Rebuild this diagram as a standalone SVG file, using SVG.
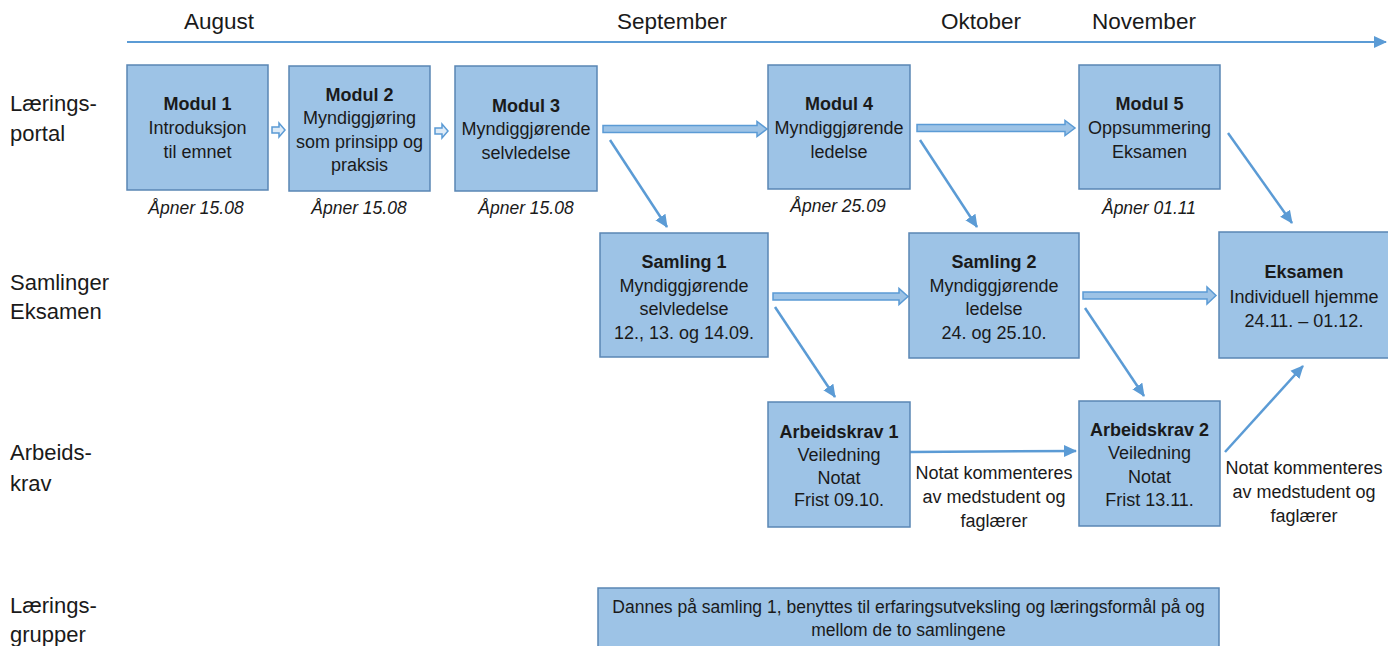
<svg xmlns="http://www.w3.org/2000/svg" width="1388" height="646" viewBox="0 0 1388 646">
<style>
text{font-family:"Liberation Sans",Arial,sans-serif;fill:#1a1a1a}
.box{fill:#9DC3E6;stroke:#5A86B4;stroke-width:1.5}
.t{font-size:18px;text-anchor:middle}
.b{font-weight:bold}
.d{font-size:17.5px;font-style:italic;text-anchor:middle}
.row{font-size:22px}
.mon{font-size:22.5px;text-anchor:middle}
.ln{fill:none;stroke:#5B9BD5;stroke-width:2.5}
.blk{fill:#9DC3E6;stroke:#5B9BD5;stroke-width:1.5}
.sm{fill:#DEEBF7;stroke:#5B9BD5;stroke-width:1.5}
.g{font-size:17.5px;text-anchor:middle}
</style>
<defs>
<marker id="ah" markerUnits="userSpaceOnUse" markerWidth="14" markerHeight="14" viewBox="0 0 14 14" refX="12" refY="7" orient="auto">
<path d="M0,1 L13,7 L0,13 Z" fill="#5B9BD5"/>
</marker>
</defs>
<rect width="1388" height="646" fill="#fff"/>
<g id="timeline">
<line x1="127" y1="42" x2="1386" y2="42" class="ln" style="stroke-width:2" marker-end="url(#ah)"/>
<text class="mon" x="219" y="29">August</text>
<text class="mon" x="672" y="29">September</text>
<text class="mon" x="981" y="29">Oktober</text>
<text class="mon" x="1144" y="29">November</text>
</g>
<g id="rowlabels">
<text class="row" x="10" y="111">Lærings-</text>
<text class="row" x="10" y="141">portal</text>
<text class="row" x="10" y="290">Samlinger</text>
<text class="row" x="10" y="319">Eksamen</text>
<text class="row" x="10" y="460">Arbeids-</text>
<text class="row" x="10" y="491">krav</text>
<text class="row" x="10" y="613">Lærings-</text>
<text class="row" x="10" y="642">grupper</text>
</g>
<g id="connectors">
<path class="sm" d="M272,127 H279 V123 L285,130 L279,137 V133 H272 Z"/>
<path class="sm" d="M435,128 H442 V124 L448,131 L442,138 V134 H435 Z"/>
<path class="blk" d="M603,125.5 H757 V121.5 L767,129 L757,136.5 V132.5 H603 Z"/>
<path class="blk" d="M917,124.5 H1065 V120.5 L1075,128 L1065,135.5 V131.5 H917 Z"/>
<path class="blk" d="M773,293 H899 V288.5 L908,296.5 L899,304.5 V300 H773 Z"/>
<path class="blk" d="M1083,292 H1207 V287 L1216,295.5 L1207,304 V299 H1083 Z"/>
<line class="ln" x1="610" y1="140" x2="667" y2="227" marker-end="url(#ah)"/>
<line class="ln" x1="920" y1="140" x2="977" y2="227" marker-end="url(#ah)"/>
<line class="ln" x1="1228" y1="133" x2="1292" y2="223" marker-end="url(#ah)"/>
<line class="ln" x1="775" y1="307" x2="835" y2="397" marker-end="url(#ah)"/>
<line class="ln" x1="1085" y1="308" x2="1144" y2="396" marker-end="url(#ah)"/>
<line class="ln" x1="910" y1="452" x2="1076" y2="451" marker-end="url(#ah)"/>
<line class="ln" x1="1225" y1="452" x2="1303" y2="366" marker-end="url(#ah)"/>
<text class="t" x="994" y="479">Notat kommenteres</text>
<text class="t" x="994" y="503">av medstudent og</text>
<text class="t" x="994" y="527">faglærer</text>
<text class="t" x="1304" y="474">Notat kommenteres</text>
<text class="t" x="1304" y="498">av medstudent og</text>
<text class="t" x="1304" y="522">faglærer</text>
</g>
<g id="modul1">
<rect class="box" x="127" y="65" width="141" height="125"/>
<text class="t b" x="197.5" y="110">Modul 1</text>
<text class="t" x="197.5" y="134">Introduksjon</text>
<text class="t" x="197.5" y="158">til emnet</text>
<text class="d" x="196" y="214">Åpner 15.08</text>
</g>
<g id="modul2">
<rect class="box" x="289" y="66" width="141" height="125"/>
<text class="t b" x="359.5" y="101">Modul 2</text>
<text class="t" x="359.5" y="124">Myndiggjøring</text>
<text class="t" x="359.5" y="148">som prinsipp og</text>
<text class="t" x="359.5" y="171">praksis</text>
<text class="d" x="359" y="214">Åpner 15.08</text>
</g>
<g id="modul3">
<rect class="box" x="455" y="66" width="142" height="125"/>
<text class="t b" x="526" y="112">Modul 3</text>
<text class="t" x="526" y="135">Myndiggjørende</text>
<text class="t" x="526" y="159">selvledelse</text>
<text class="d" x="526" y="214">Åpner 15.08</text>
</g>
<g id="modul4">
<rect class="box" x="768" y="65" width="142" height="124"/>
<text class="t b" x="839" y="110">Modul 4</text>
<text class="t" x="839" y="134">Myndiggjørende</text>
<text class="t" x="839" y="158">ledelse</text>
<text class="d" x="838" y="212">Åpner 25.09</text>
</g>
<g id="modul5">
<rect class="box" x="1079" y="65" width="141" height="124"/>
<text class="t b" x="1149.5" y="110">Modul 5</text>
<text class="t" x="1149.5" y="134">Oppsummering</text>
<text class="t" x="1149.5" y="158">Eksamen</text>
<text class="d" x="1149" y="214">Åpner 01.11</text>
</g>
<g id="samling1">
<rect class="box" x="600" y="233" width="168" height="124"/>
<text class="t b" x="684" y="268">Samling 1</text>
<text class="t" x="684" y="292">Myndiggjørende</text>
<text class="t" x="684" y="315">selvledelse</text>
<text class="t" x="684" y="339">12., 13. og 14.09.</text>
</g>
<g id="samling2">
<rect class="box" x="909" y="233" width="170" height="125"/>
<text class="t b" x="994" y="268">Samling 2</text>
<text class="t" x="994" y="292">Myndiggjørende</text>
<text class="t" x="994" y="315">ledelse</text>
<text class="t" x="994" y="339">24. og 25.10.</text>
</g>
<g id="eksamen">
<rect class="box" x="1219" y="232" width="175" height="126"/>
<text class="t b" x="1304" y="278">Eksamen</text>
<text class="t" x="1304" y="303">Individuell hjemme</text>
<text class="t" x="1304" y="327">24.11. – 01.12.</text>
</g>
<g id="arbeidskrav1">
<rect class="box" x="768" y="402" width="142" height="125"/>
<text class="t b" x="839" y="438">Arbeidskrav 1</text>
<text class="t" x="839" y="461">Veiledning</text>
<text class="t" x="839" y="484">Notat</text>
<text class="t" x="839" y="506">Frist 09.10.</text>
</g>
<g id="arbeidskrav2">
<rect class="box" x="1079" y="401" width="141" height="125"/>
<text class="t b" x="1149.5" y="436">Arbeidskrav 2</text>
<text class="t" x="1149.5" y="459">Veiledning</text>
<text class="t" x="1149.5" y="483">Notat</text>
<text class="t" x="1149.5" y="506">Frist 13.11.</text>
</g>
<g id="laeringsgrupper">
<rect class="box" x="598" y="588" width="621" height="66"/>
<text class="g" x="908.5" y="613">Dannes på samling 1, benyttes til erfaringsutveksling og læringsformål på og</text>
<text class="g" x="908.5" y="636">mellom de to samlingene</text>
</g>
</svg>
